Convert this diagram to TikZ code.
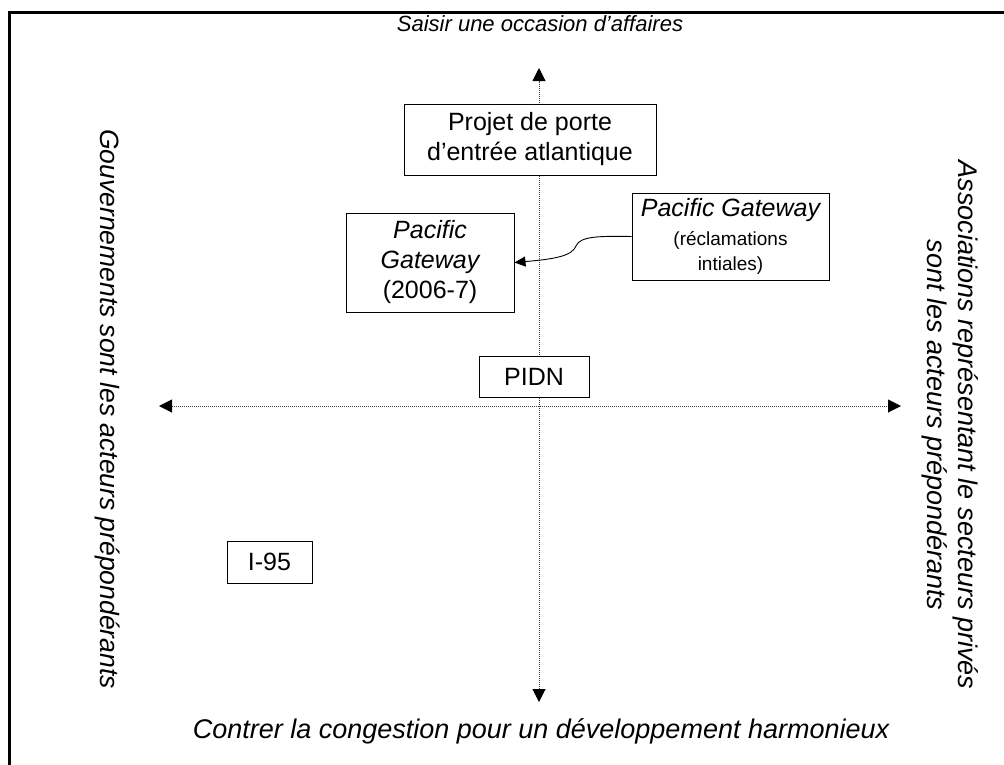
\documentclass[tikz,border=0pt]{standalone}
\usepackage{fontspec}
\setmainfont{Liberation Sans}
\usetikzlibrary{arrows.meta}
\tikzset{
  frameline/.style={line width=3pt},
  axis/.style={densely dotted, line width=1pt, black!75, {Triangle[width=13pt,length=13pt,color=black]}-{Triangle[width=13pt,length=13pt,color=black]}},
  box/.style={draw, line width=1pt, align=center, inner sep=0pt,
    font=\fontsize{25}{30}\selectfont},
  axislabel/.style={align=center, font=\fontsize{27}{31}\selectfont\itshape},
  link/.style={line width=0.9pt, -{Triangle[width=10pt,length=11pt]}}
}
\begin{document}
\begin{tikzpicture}[x=1pt,y=-1pt]
\useasboundingbox (0,0) rectangle (1004,764);
% outer frame (open towards the right and bottom)
\draw[frameline] (9.5,770) -- (9.5,12) -- (1010,12);

% axes
\coordinate (vtop) at (539,68);
\coordinate (vbot) at (539,702);
\coordinate (hl) at (159,406);
\coordinate (hr) at (901,406);
\draw[axis] (vbot) -- (vtop);
\draw[axis] (hl) -- (hr);

% axis labels
\node[axislabel, font=\fontsize{22}{26}\selectfont\itshape] (ltop) at (540,24) {Saisir une occasion d’affaires};
\node[axislabel] (lbot) at (541,731) {Contrer la congestion pour un développement harmonieux};
\node[axislabel, font=\fontsize{26.5}{31}\selectfont\itshape, rotate=-90] (lleft) at (108,409) {Gouvernements sont les acteurs prépondérants};
\node[axislabel, rotate=-90] (lright) at (950,425) {Associations représentant le secteurs privés\\sont les acteurs prépondérants};

% boxes
\node[box, fill=white, minimum width=252pt, minimum height=71pt] (projet) at (530,139.5)
  {Projet de porte\\d’entrée atlantique};
\node[box, fill=white, minimum width=168pt, minimum height=99pt] (pgnow) at (430,262.5)
  {\itshape Pacific\\\itshape Gateway\\(2006-7)};
\node[box, fill=white, minimum width=197pt, minimum height=87pt] (pginit) at (730.5,236.5)
  {\itshape Pacific Gateway\\[-1pt]{\fontsize{19}{24}\selectfont (réclamations}\\[-5pt]{\fontsize{19}{24}\selectfont intiales)}};
\node[box, fill=white, minimum width=110pt, minimum height=41pt] (pidn) at (534,376.5) {PIDN};
\node[box, fill=white, minimum width=85pt, minimum height=42pt] (i95) at (269.5,562) {I-95};

% link between the two Pacific Gateway boxes
\draw[link] (pginit.west) .. controls (600,236) and (580,236) .. (576,246)
  .. controls (572,256) and (555,259) .. (pgnow.east);
\end{tikzpicture}
\end{document}
